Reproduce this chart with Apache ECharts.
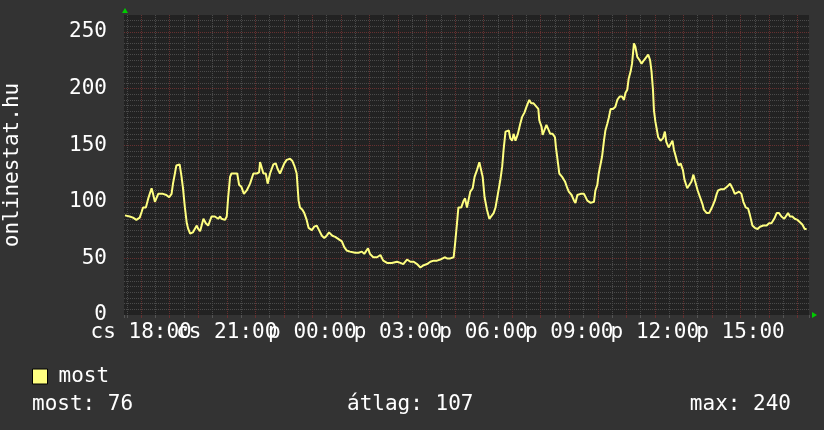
<!DOCTYPE html>
<html><head><meta charset="utf-8">
<script src="https://cdn.jsdelivr.net/npm/echarts@6/dist/echarts.min.js"></script>
<style>html,body{margin:0;padding:0;background:#333333;}#c{width:824px;height:430px;}</style>
</head><body><div id="c"></div>
<script>
// time of each reading, minutes since 00:00 on Thursday (cs); >1440 = Friday (p)
const times = [1046,1056,1063,1070,1074,1077,1081,1084,1090,1095,
1098,1102,1105,1109,1112,1116,1119,1126,1133,1139,
1144,1147,1151,1154,1161,1165,1168,1172,1176,1179,
1183,1189,1197,1200,1204,1211,1216,1221,1228,1235,
1242,1246,1249,1256,1260,1263,1267,1270,1277,1282,
1286,1291,1296,1302,1309,1316,1323,1328,1330,1333,
1337,1342,1346,1351,1358,1363,1367,1372,1376,1381,
1386,1393,1398,1402,1407,1411,1414,1419,1423,1428,
1432,1439,1444,1449,1454,1460,1465,1470,1475,1482,
1488,1495,1502,1507,1512,1519,1530,1537,1544,1549,
1557,1561,1568,1576,1583,1589,1597,1607,1618,1625,
1631,1639,1646,1653,1660,1667,1674,1681,1688,1695,
1702,1709,1718,1723,1730,1737,1740,1744,1747,1753,
1758,1761,1765,1768,1772,1777,1781,1786,1791,1795,
1798,1802,1807,1812,1816,1821,1825,1830,1835,1839,
1842,1846,1853,1856,1860,1863,1867,1872,1877,1881,
1886,1891,1896,1900,1905,1909,1915,1917,1922,1924,
1928,1932,1937,1940,1945,1950,1952,1957,1959,1965,
1971,1976,1979,1985,1990,1993,1997,2004,2011,2014,
2018,2025,2032,2035,2039,2042,2046,2049,2053,2056,
2060,2063,2067,2072,2077,2081,2086,2091,2095,2098,
2102,2105,2109,2112,2116,2119,2123,2128,2132,2137,
2140,2146,2150,2153,2156,2158,2161,2167,2172,2177,
2181,2184,2189,2193,2197,2200,2204,2207,2210,2214,
2219,2222,2225,2228,2232,2237,2241,2244,2248,2250,
2255,2260,2263,2269,2274,2279,2283,2286,2290,2293,
2298,2305,2311,2314,2318,2323,2328,2332,2337,2342,
2346,2351,2356,2360,2365,2370,2376,2381,2388,2395,
2400,2405,2411,2416,2421,2426,2432,2435,2440,2444,
2449,2454,2460,2465,2470,2475,2479];
const values = [88,87,86,84,83,86,91,95,95,103,
103,112,107,100,103,107,108,107,106,104,
107,116,125,132,133,122,112,95,81,76,
72,73,79,76,74,85,81,79,87,87,
85,87,85,84,87,104,122,125,125,125,
115,113,107,110,116,125,125,126,135,131,
125,125,116,125,133,134,129,125,125,134,
137,138,136,132,125,101,95,93,90,84,
77,75,78,79,75,70,68,70,73,70,
69,67,65,60,57,56,55,55,56,54,
59,54,51,51,53,48,46,46,47,46,
45,49,47,47,45,42,44,45,47,48,
48,49,51,50,50,51,63,81,95,95,
101,103,95,101,109,112,122,128,135,135,
122,104,93,85,84,90,95,107,119,131,
146,162,163,156,154,160,154,160,169,175,
179,185,190,187,187,186,182,172,166,159,
160,168,163,160,160,157,148,132,125,122,
118,112,109,106,101,99,106,107,107,106,
101,99,100,110,115,125,126,140,154,163,
169,174,182,182,184,190,193,193,190,196,
199,209,215,222,240,237,228,225,222,225,
224,230,225,215,199,181,171,157,154,156,
162,153,148,148,154,146,140,135,132,134,
128,120,116,112,112,118,124,119,119,110,
104,98,93,90,90,94,98,101,107,110,
111,111,113,114,116,112,107,108,109,107,
100,95,94,88,79,77,76,78,79,79,
81,81,85,90,90,87,85,85,90,87,
87,85,84,82,80,76,76];
const xStart = 1044, xEnd = 2484;          // 24 h window
const dayPrefixes = ['cs', 'p'];
const yTicks = [0, 50, 100, 150, 200, 250];
const yMax = 265;
const seriesName = 'most';
const axisTitle = 'onlinestat.hu';
const statNames = ['most', 'átlag', 'max'];
const statValues = [76, 107, 240];

const FONT = '"DejaVu Sans Mono", monospace';
const chart = echarts.init(document.getElementById('c'), null, {renderer: 'canvas'});
const pad2 = n => (n < 10 ? '0' : '') + n;
const xLabel = v => {
  if (v % 180 !== 0) return '';
  const day = Math.floor(v / 1440);
  const h = Math.round((v % 1440) / 60);
  return dayPrefixes[day] + ' ' + pad2(h) + ':00';
};
const minorColor = '#4a4a4a';
const majorColor = '#663030';
const gridL = 124, gridR = 15, gridT = 15, gridB = 115;

chart.setOption({
  backgroundColor: '#333333',
  animation: false,
  grid: {left: gridL, right: gridR, top: gridT, bottom: gridB, show: true, backgroundColor: '#222222', borderWidth: 0,
         containLabel: false, outerBoundsMode: 'none'},
  legend: {
    data: [seriesName], left: 32, top: 366, padding: 0, itemWidth: 15, itemHeight: 15,
    icon: 'rect',
    itemStyle: {color: '#ffff80', borderColor: '#000', borderWidth: 1},
    textStyle: {color: '#ffffff', fontFamily: FONT, fontSize: 21, padding: [0, 0, 0, 6]}
  },
  xAxis: [
    {type: 'value', min: xStart, max: xEnd, splitNumber: 48, minInterval: 30, maxInterval: 30, position: 'bottom',
     axisLine: {show: false}, axisTick: {show: true, length: 3, lineStyle: {color: '#555'}}, axisLabel: {show: false},
     splitLine: {show: true, showMinLine: false, showMaxLine: false, lineStyle: {color: minorColor, type: [1, 1], width: 1}}},
    {type: 'value', min: xStart, max: xEnd, splitNumber: 24, minInterval: 60, maxInterval: 60, position: 'bottom',
     axisLine: {show: false}, axisTick: {show: true, length: 3, lineStyle: {color: majorColor}},
     axisLabel: {show: true, formatter: xLabel, color: '#ffffff', fontFamily: FONT, fontSize: 21, margin: 7,
                 showMinLabel: false, showMaxLabel: false},
     splitLine: {show: true, showMinLine: false, showMaxLine: false, lineStyle: {color: majorColor, type: [1, 1], width: 1}}}
  ],
  yAxis: [
    {type: 'value', min: 0, max: yMax, interval: 5, position: 'left',
     axisLine: {show: false}, axisTick: {show: false}, axisLabel: {show: false},
     splitLine: {show: true, showMinLine: false, showMaxLine: false, lineStyle: {color: minorColor, type: [1, 1], width: 1}}},
    {type: 'value', min: 0, max: yMax, interval: 50, position: 'left',
     name: axisTitle, nameLocation: 'middle', nameGap: 101, nameRotate: 90,
     nameTextStyle: {color: '#ffffff', fontFamily: FONT, fontSize: 21},
     axisLine: {show: false}, axisTick: {show: false},
     axisLabel: {show: true, color: '#ffffff', fontFamily: FONT, fontSize: 21, margin: 17, padding: [4, 0, 0, 0],
                 formatter: v => (yTicks.indexOf(v) >= 0 ? String(v) : ''), showMaxLabel: false},
     splitLine: {show: true, showMinLine: false, showMaxLine: false, lineStyle: {color: majorColor, type: [1, 1], width: 1}}}
  ],
  series: [{
    name: seriesName, type: 'line', xAxisIndex: 1, yAxisIndex: 1,
    data: times.map((t, i) => [t, values[i]]),
    showSymbol: false, symbol: 'none', smooth: false,
    lineStyle: {color: '#ffff80', width: 2},
    itemStyle: {color: '#ffff80'}
  }],
  graphic: [
    {type: 'polygon', shape: {points: [[122, 13], [128, 13], [125, 8]]}, style: {fill: '#00cc00'}},
    {type: 'polygon', shape: {points: [[812, 312], [812, 318], [817, 315]]}, style: {fill: '#00cc00'}},
    {type: 'text', left: 32, top: 394, style: {text: statNames[0] + ': ' + statValues[0], font: '21px ' + FONT, fill: '#ffffff'}},
    {type: 'text', left: 347, top: 394, style: {text: statNames[1] + ': ' + statValues[1], font: '21px ' + FONT, fill: '#ffffff'}},
    {type: 'text', right: 33, top: 394, style: {text: statNames[2] + ': ' + statValues[2], font: '21px ' + FONT, fill: '#ffffff'}}
  ]
});
</script></body></html>
